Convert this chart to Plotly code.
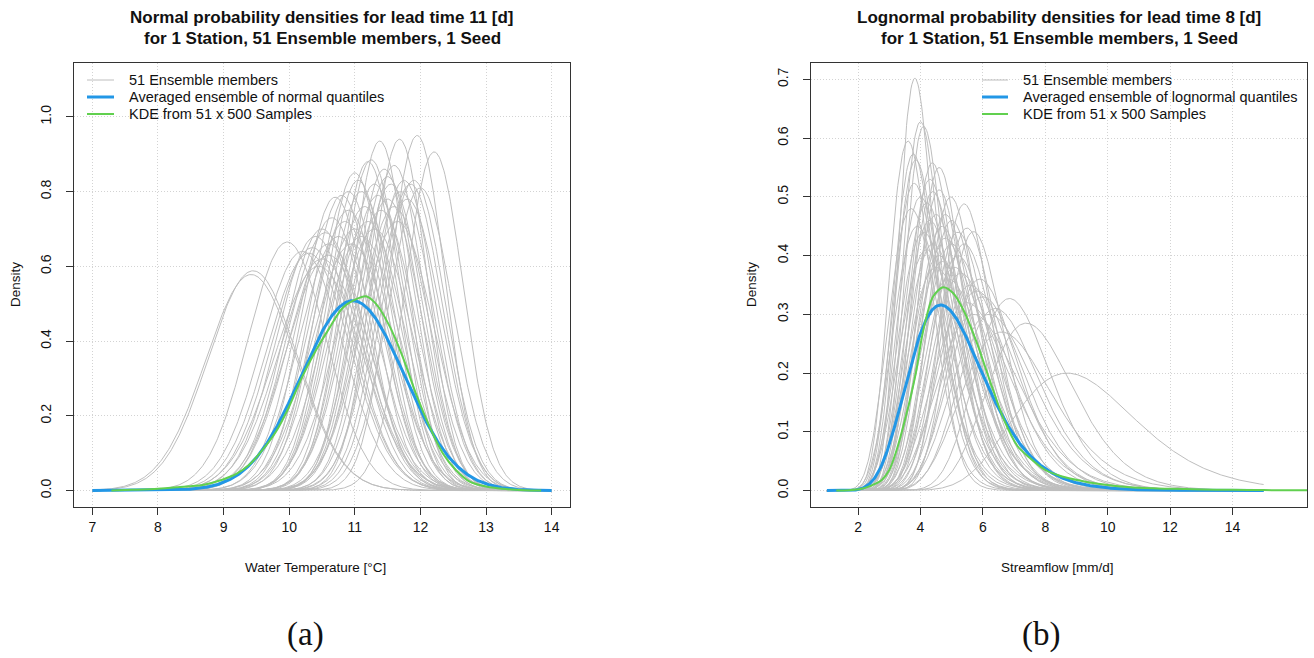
import numpy as np
import plotly.graph_objects as go

# ---------------- Panel (a): normal densities, water temperature ----------------
# mode (deg C) and peak density of each of the 51 ensemble members
normal_modes = [9.45, 9.42, 9.97, 10.30, 10.40, 10.50, 10.55, 10.60, 10.50, 10.45,
                10.70, 10.80, 10.65, 10.90, 10.85, 11.00, 11.05, 11.20, 11.25, 11.10,
                11.15, 11.30, 11.38, 11.45, 11.50, 11.55, 11.60, 11.68, 11.70, 11.75,
                11.80, 11.95, 11.90, 12.00, 12.21, 11.35, 11.00, 10.75, 11.20, 11.40,
                10.95, 11.10, 10.35, 11.60, 11.30, 10.60, 11.50, 11.85, 10.20, 11.65,
                10.90]
normal_peaks = [0.588, 0.578, 0.665, 0.635, 0.680, 0.700, 0.690, 0.660, 0.620, 0.600,
                0.785, 0.790, 0.730, 0.750, 0.720, 0.850, 0.830, 0.880, 0.885, 0.800,
                0.760, 0.820, 0.935, 0.860, 0.840, 0.820, 0.870, 0.940, 0.800, 0.830,
                0.780, 0.950, 0.830, 0.810, 0.906, 0.790, 0.700, 0.680, 0.720, 0.750,
                0.660, 0.680, 0.650, 0.760, 0.700, 0.630, 0.780, 0.820, 0.640, 0.720,
                0.800]
avg_normal_mode = 10.97
avg_normal_peak = 0.508
kde_a_x = [7.29, 7.6, 8.0, 8.3, 8.68, 8.98, 9.2, 9.39, 9.6, 9.8, 10.0, 10.2, 10.41,
           10.61, 10.81, 11.02, 11.17, 11.32, 11.53, 11.73, 11.93, 12.14, 12.34, 12.54,
           12.75, 13.0, 13.3, 13.6, 13.84]
kde_a_y = [0.0, 0.002, 0.005, 0.009, 0.015, 0.029, 0.045, 0.069, 0.11, 0.158, 0.225,
           0.305, 0.376, 0.434, 0.488, 0.512, 0.52, 0.50, 0.44, 0.358, 0.26, 0.171,
           0.10, 0.055, 0.024, 0.011, 0.004, 0.001, 0.0]
x_ticks_a = [7, 8, 9, 10, 11, 12, 13, 14]
y_ticks_a = [0.0, 0.2, 0.4, 0.6, 0.8, 1.0]

# ---------------- Panel (b): lognormal densities, streamflow ----------------
lognormal_modes = [3.82, 4.00, 4.10, 3.60, 3.77, 3.85, 4.38, 3.80, 4.40, 4.60,
                   4.97, 5.40, 5.49, 5.70, 6.85, 7.39, 8.70, 4.20, 4.50, 4.30,
                   4.70, 4.10, 4.80, 5.00, 4.40, 4.60, 5.20, 3.90, 5.10, 5.30,
                   4.90, 5.60, 5.80, 6.00, 5.50, 6.20, 4.50, 4.00, 4.30, 3.70,
                   4.80, 5.20, 4.60, 5.00, 5.90, 6.40, 4.20, 5.40, 4.70, 6.60,
                   5.70]
lognormal_peaks = [0.702, 0.628, 0.620, 0.595, 0.573, 0.563, 0.558, 0.523, 0.509, 0.512,
                   0.500, 0.488, 0.447, 0.441, 0.327, 0.285, 0.200, 0.490, 0.470, 0.460,
                   0.450, 0.440, 0.430, 0.420, 0.420, 0.400, 0.400, 0.450, 0.380, 0.370,
                   0.360, 0.350, 0.340, 0.330, 0.320, 0.300, 0.380, 0.500, 0.530, 0.480,
                   0.470, 0.440, 0.550, 0.460, 0.360, 0.310, 0.410, 0.420, 0.390, 0.270,
                   0.300]
avg_lognormal_mode = 4.65
avg_lognormal_peak = 0.316
kde_b_x = [1.3, 1.7, 2.11, 2.4, 2.76, 3.0, 3.2, 3.53, 3.85, 4.07, 4.4, 4.72, 5.05, 5.38,
           5.81, 6.25, 6.68, 7.12, 7.45, 8.0, 8.54, 9.1, 9.63, 10.72, 12.0, 13.0, 14.0,
           15.0, 16.0, 17.0]
kde_b_y = [0.0, 0.0005, 0.003, 0.008, 0.018, 0.035, 0.063, 0.126, 0.20, 0.268, 0.33,
           0.346, 0.336, 0.307, 0.251, 0.183, 0.12, 0.075, 0.058, 0.035, 0.024, 0.017,
           0.012, 0.0055, 0.003, 0.002, 0.0012, 0.0008, 0.0005, 0.0003]
x_ticks_b = [2, 4, 6, 8, 10, 12, 14]
y_ticks_b = [0.0, 0.1, 0.2, 0.3, 0.4, 0.5, 0.6, 0.7]

legend_a = ["51 Ensemble members", "Averaged ensemble of normal quantiles", "KDE from 51 x 500 Samples"]
legend_b = ["51 Ensemble members", "Averaged ensemble of lognormal quantiles", "KDE from 51 x 500 Samples"]

# ---------------- helpers ----------------
SQRT2PI = np.sqrt(2 * np.pi)


def normal_pdf(x, mode, peak):
    sd = 1.0 / (peak * SQRT2PI)
    return np.exp(-0.5 * ((x - mode) / sd) ** 2) / (sd * SQRT2PI)


def lognormal_params(mode, peak):
    target = peak * mode * SQRT2PI
    lo, hi = 1e-4, 3.0
    for _ in range(100):
        mid = 0.5 * (lo + hi)
        if np.exp(-mid * mid / 2) / mid > target:
            lo = mid
        else:
            hi = mid
    s = 0.5 * (lo + hi)
    return np.log(mode) + s * s, s


def lognormal_pdf(x, mode, peak):
    mu, s = lognormal_params(mode, peak)
    return np.exp(-(np.log(x) - mu) ** 2 / (2 * s * s)) / (x * s * SQRT2PI)


GREY = "#BEBEBE"
BLUE = "#2297E6"
GREEN = "#61D04F"
FONT = "Liberation Sans, Arial, sans-serif"
STYLES = [dict(color=GREY, width=1), dict(color=BLUE, width=3), dict(color=GREEN, width=2)]

xa = np.linspace(7, 14, 500)
xb = np.linspace(1, 15, 500)

fig = go.Figure()

# Panel (a)
for i, (m, p) in enumerate(zip(normal_modes, normal_peaks)):
    fig.add_trace(go.Scatter(x=xa, y=normal_pdf(xa, m, p), mode="lines",
                             line=STYLES[0], name=legend_a[0], legendgroup="ens_a",
                             xaxis="x", yaxis="y", hoverinfo="skip"))
fig.add_trace(go.Scatter(x=xa, y=normal_pdf(xa, avg_normal_mode, avg_normal_peak), mode="lines",
                         line=STYLES[1], name=legend_a[1], xaxis="x", yaxis="y"))
fig.add_trace(go.Scatter(x=kde_a_x, y=kde_a_y, mode="lines",
                         line=dict(STYLES[2], shape="spline", smoothing=0.8),
                         name=legend_a[2], xaxis="x", yaxis="y"))

# Panel (b)
for i, (m, p) in enumerate(zip(lognormal_modes, lognormal_peaks)):
    fig.add_trace(go.Scatter(x=xb, y=lognormal_pdf(xb, m, p), mode="lines",
                             line=STYLES[0], name=legend_b[0], legendgroup="ens_b",
                             xaxis="x2", yaxis="y2", hoverinfo="skip"))
fig.add_trace(go.Scatter(x=xb, y=lognormal_pdf(xb, avg_lognormal_mode, avg_lognormal_peak), mode="lines",
                         line=STYLES[1], name=legend_b[1], xaxis="x2", yaxis="y2"))
fig.add_trace(go.Scatter(x=kde_b_x, y=kde_b_y, mode="lines",
                         line=dict(STYLES[2], shape="spline", smoothing=0.8),
                         name=legend_b[2], xaxis="x2", yaxis="y2"))

W, H = 1314, 658


def px_x(p):
    return p / W


def px_y(p):
    return 1 - p / H


axis_common = dict(showline=True, mirror=True, linecolor="#333333", linewidth=1,
                   ticks="outside", ticklen=7, tickcolor="#333333", tickwidth=1,
                   showgrid=True, gridcolor="#D3D3D3", griddash="1px,2px", gridwidth=1,
                   zeroline=False, tickfont=dict(family=FONT, size=14, color="#111111"))

fig.update_layout(
    width=W, height=H, margin=dict(l=0, r=0, t=0, b=0),
    paper_bgcolor="white", plot_bgcolor="white", showlegend=False,
    xaxis=dict(domain=[px_x(74), px_x(570)], range=[6.72, 14.28], anchor="y",
               tickmode="array", tickvals=x_ticks_a, ticktext=[str(v) for v in x_ticks_a],
               ticklabelstandoff=0, **axis_common),
    yaxis=dict(domain=[px_y(507), px_y(63)], range=[-0.044, 1.144], anchor="x",
               tickmode="array", tickvals=y_ticks_a, ticktext=[f"{v:.1f}" for v in y_ticks_a],
               tickangle=-90, ticklabelstandoff=9, **axis_common),
    xaxis2=dict(domain=[px_x(811), px_x(1307)], range=[0.49, 16.39], anchor="y2",
                tickmode="array", tickvals=x_ticks_b, ticktext=[str(v) for v in x_ticks_b],
                ticklabelstandoff=0, **axis_common),
    yaxis2=dict(domain=[px_y(507), px_y(63)], range=[-0.028, 0.728], anchor="x2",
                tickmode="array", tickvals=y_ticks_b, ticktext=[f"{v:.1f}" for v in y_ticks_b],
                tickangle=-90, ticklabelstandoff=9, **axis_common),
)

shapes = []
ann = []
# legends (drawn without a box, like the reference)
leg_font = dict(family=FONT, size=14.5, color="#111111")
for x0, x1, xt, labels in [(87, 114, 127, legend_a), (982, 1008, 1021, legend_b)]:
    for k, (yy, lab) in enumerate(zip([80, 97, 114], labels)):
        st = STYLES[k]
        shapes.append(dict(type="line", xref="paper", yref="paper", x0=px_x(x0), x1=px_x(x1),
                           y0=px_y(yy), y1=px_y(yy), line=dict(color=st["color"], width=st["width"])))
        ann.append(dict(x=px_x(xt), y=px_y(yy), xref="paper", yref="paper", text=lab,
                        showarrow=False, xanchor="left", yanchor="middle", font=leg_font))

title_font = dict(family=FONT, size=17, color="#111111")
for cx, line1 in [(322, "Normal probability densities for lead time 11 [d]"),
                  (1059, "Lognormal probability densities for lead time 8 [d]")]:
    ann.append(dict(x=px_x(cx), y=px_y(18), xref="paper", yref="paper", text="<b>" + line1 + "</b>",
                    showarrow=False, xanchor="center", yanchor="middle", font=title_font))
    ann.append(dict(x=px_x(cx), y=px_y(39), xref="paper", yref="paper",
                    text="<b>for 1 Station, 51 Ensemble members, 1 Seed</b>",
                    showarrow=False, xanchor="center", yanchor="middle", font=title_font))
lab_font = dict(family=FONT, size=13.5, color="#111111")
ann.append(dict(x=px_x(315), y=px_y(567), xref="paper", yref="paper", text="Water Temperature [°C]",
                showarrow=False, xanchor="center", yanchor="middle", font=lab_font))
ann.append(dict(x=px_x(1057), y=px_y(567), xref="paper", yref="paper", text="Streamflow [mm/d]",
                showarrow=False, xanchor="center", yanchor="middle", font=lab_font))
ann.append(dict(x=px_x(16), y=px_y(285), xref="paper", yref="paper", text="Density", textangle=-90,
                showarrow=False, xanchor="center", yanchor="middle", font=lab_font))
ann.append(dict(x=px_x(752), y=px_y(285), xref="paper", yref="paper", text="Density", textangle=-90,
                showarrow=False, xanchor="center", yanchor="middle", font=lab_font))
panel_font = dict(family="Liberation Serif, DejaVu Serif, serif", size=33, color="#111111")
ann.append(dict(x=px_x(305), y=px_y(634), xref="paper", yref="paper", text="(a)",
                showarrow=False, xanchor="center", yanchor="middle", font=panel_font))
ann.append(dict(x=px_x(1041), y=px_y(634), xref="paper", yref="paper", text="(b)",
                showarrow=False, xanchor="center", yanchor="middle", font=panel_font))
fig.update_layout(annotations=ann, shapes=shapes)

fig.write_html("out.html")
